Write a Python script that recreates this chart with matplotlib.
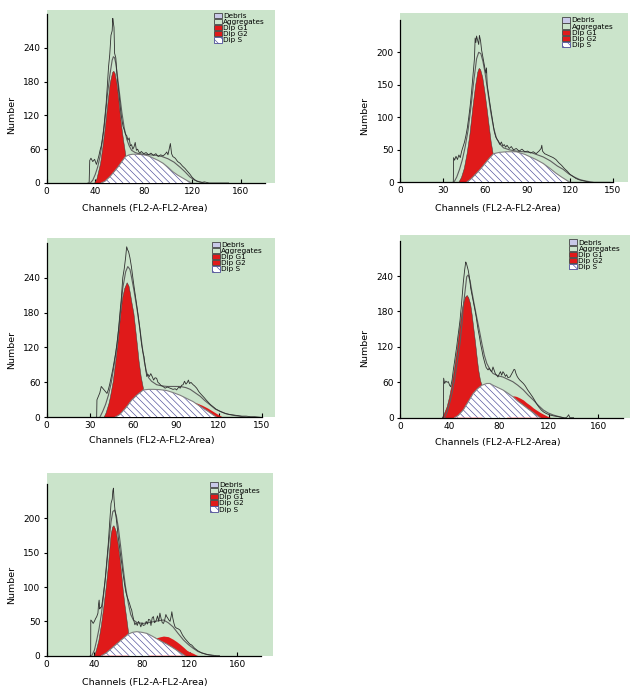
import matplotlib
matplotlib.use('Agg')
import matplotlib.pyplot as plt
from matplotlib.patches import Patch

plt.rcParams['font.family'] = ['DejaVu Sans']
plt.rcParams['hatch.linewidth'] = 0.45

# Panel 1 (top left)
p1_raw_x = [34, 35, 35.5, 36.5, 38, 39.5, 41, 42, 43, 44, 45, 46, 47, 48, 49, 50, 51, 52, 53, 54, 54.5, 55,
            55.5, 56, 57, 58, 59, 60, 61, 62, 63, 64, 65, 66, 67, 68, 69, 70, 71, 72, 73, 74, 75, 76, 77, 78,
            80, 82, 84, 86, 88, 90, 92, 94, 96, 98, 99, 100, 101, 102, 103, 104, 106, 108, 110, 112, 114, 116,
            118, 120, 122, 124, 126, 128, 130, 132, 134, 150]
p1_raw_y = [0, 0, 40, 44, 38, 42, 33, 40, 48, 58, 66, 80, 96, 118, 140, 172, 206, 228, 262, 270, 292, 284,
            276, 230, 222, 190, 171, 150, 128, 112, 100, 94, 86, 84, 76, 80, 66, 68, 60, 64, 72, 58, 60, 55, 53, 56,
            52, 54, 50, 53, 49, 52, 47, 50, 48, 52, 55, 50, 60, 70, 52, 47, 44, 38, 35, 30, 26, 21,
            16, 10, 6, 3, 2, 1, 2, 1, 0, 0]
p1_fit_x = [36, 38, 40, 42, 44, 46, 48, 50, 52, 54, 55, 56, 57, 58, 60, 62, 64, 66, 68, 70, 73, 76, 80, 85,
            90, 95, 100, 105, 110, 114, 118, 122, 126, 130]
p1_fit_y = [0, 5, 15, 28, 47, 75, 110, 155, 190, 218, 224, 222, 212, 196, 160, 125, 97, 78, 66, 58, 54, 52, 51, 50,
            49, 47, 43, 37, 28, 20, 11, 5, 2, 0]
p1_g1_x = [39, 41, 44, 46, 48, 50, 52, 54, 55, 56, 57.5, 59, 60, 61.5, 63, 64, 65]
p1_g1_y = [0, 8, 35, 65, 100, 140, 178, 197, 199, 195, 178, 150, 128, 100, 76, 62, 47]
p1_s_x = [45, 48, 52, 56, 59, 62, 65, 68, 71, 75, 80, 84, 88, 92, 96, 100, 104, 108, 112, 116, 119.5]
p1_s_y = [0, 3, 11, 21, 29, 38, 47, 50, 51, 51, 50, 48, 44, 40, 35, 28, 20, 14, 9, 4, 0]

# Panel 2 (top right)
p2_raw_x = [37, 37.6, 37.8, 38.5, 39.5, 40.5, 41.5, 42.5, 43.5, 44.5, 45.5, 46.5, 47.5, 48.5, 49.5, 50.5, 51.5,
            52.5, 53, 53.5, 54, 54.8, 55.5, 56, 56.8, 57.5, 58.5, 59.5, 60.5, 61, 61.5, 62.5, 63.5, 64.5, 65.5,
            66.5, 67.5, 68.5, 69.5, 70.5, 71.5, 72.5, 73.5, 74.5, 75.5, 77, 78.5, 80, 82, 84, 86, 88, 90, 92, 94,
            96, 98, 99.5, 100, 100.5, 102, 104, 106, 108, 110, 112, 114, 116, 118, 120, 122, 124, 126, 128, 130,
            132, 134, 148]
p2_raw_y = [0, 0, 38, 34, 40, 35, 42, 38, 48, 55, 62, 72, 84, 100, 118, 140, 165,
            190, 222, 215, 225, 218, 212, 226, 218, 204, 192, 180, 168, 176, 150, 135, 120, 106, 92,
            78, 70, 66, 63, 58, 62, 56, 58, 54, 57, 52, 55, 50, 52, 48, 51, 47, 48, 45, 47,
            44, 48, 52, 57, 48, 44, 42, 40, 38, 35, 30, 26, 21, 17, 12, 9, 6, 4, 3, 2,
            1, 0, 0]
p2_fit_x = [38, 40, 42, 44, 46, 48, 50, 52, 54, 55.5, 57, 58.5, 60, 62, 64, 66, 68, 70, 73, 77, 82, 87, 92, 96,
            101, 106, 111, 115, 119, 123, 127, 131, 136]
p2_fit_y = [0, 8, 20, 35, 55, 80, 115, 155, 190, 200, 198, 186, 168, 138, 108, 84, 68, 60, 53, 50, 48, 47, 46, 43,
            39, 33, 25, 20, 13, 8, 4, 2, 0]
p2_g1_x = [41, 43, 45, 47, 49, 51, 53, 54.5, 55.5, 56.5, 58, 59.5, 61, 62.5, 64, 65.4]
p2_g1_y = [0, 8, 22, 45, 75, 115, 150, 170, 176, 174, 162, 140, 115, 88, 62, 44]
p2_s_x = [47, 50, 54, 57, 60, 63, 66, 70, 75, 82, 88, 92, 96, 101, 106, 110, 114, 117.6, 120]
p2_s_y = [0, 5, 14, 21, 29, 37, 44, 46, 47, 47, 43, 39, 35, 29, 21, 14, 8, 3, 0]

# Panel 3 (middle left)
p3_raw_x = [34.5, 34.8, 35, 36, 37, 38, 39, 40, 41, 42, 43, 44, 45, 46, 47, 48, 49, 50, 51, 52, 53, 54, 55, 55.7,
            56.5, 57, 58, 59, 60, 61, 62, 63, 64, 65, 66, 67, 67.8, 68.5, 69.7, 70.5, 71.5, 72.5, 73.5, 74.5,
            75.5, 76.6, 77.5, 78.5, 79.5, 81, 82.5, 84, 86, 88, 89.5, 90.5, 92, 93, 94, 95, 96, 97, 98, 98.7,
            99.5, 100.5, 102, 103, 104.5, 106, 107, 108.5, 110, 111, 112.5, 114, 116, 118, 121, 124, 127, 130,
            133, 136, 139, 142, 145, 148.6]
p3_raw_y = [0, 0, 30, 36, 42, 53, 50, 47, 44, 41, 48, 58, 70, 82, 96, 110, 128, 150, 179, 205, 240, 255, 275, 293,
            287, 285, 274, 259, 240, 222, 205, 188, 170, 150, 127, 112, 104, 90, 70, 74, 70, 75, 70, 64,
            68, 67, 60, 58, 55, 53, 50, 52, 50, 48, 49, 47, 52, 50, 55, 56, 62, 57, 60, 64,
            58, 60, 56, 54, 50, 44, 41, 37, 33, 30, 26, 22, 18, 14, 10, 7, 5, 4,
            3, 2, 2, 1, 1, 0]
p3_fit_x = [37, 39, 41, 43, 45, 47, 49, 51, 53, 55, 56.5, 58, 59, 60.5, 62, 63.5, 65, 66.5, 68, 69.5, 71, 73,
            76.6, 80, 84, 88, 93, 97, 100, 103.5, 107, 110, 114, 117.5, 121, 125, 130, 135, 140]
p3_fit_y = [0, 10, 22, 38, 60, 90, 125, 170, 222, 250, 259, 254, 242, 222, 200, 176, 150, 122, 96, 78, 68, 62,
            56, 54, 53, 53, 53, 51, 48, 42, 36, 29, 21, 14, 10, 6, 3.4, 1.5, 0]
p3_g1_x = [39.5, 41, 43, 44, 46, 47.6, 49.5, 51, 52.5, 54, 55.7, 57, 58, 59, 60.4, 61.5, 63, 64, 65.5, 67.3]
p3_g1_y = [0, 8, 24, 35, 62, 93, 133, 173, 205, 222, 232, 226, 213, 198, 179, 155, 121, 97, 70, 47]
p3_s_x = [47.6, 51, 55.7, 59, 62.7, 67.3, 71, 74.3, 79, 83.6, 88, 92.9, 97, 102, 105.5, 109, 112.5, 116, 118.4]
p3_s_y = [0, 5, 18, 29, 38, 47, 48, 48, 47.5, 46, 42.5, 38, 33, 27, 21, 15.5, 10, 4, 0]
p3_g2_x = [100, 104, 108, 112, 116, 120, 123]
p3_g2_y = [26, 25, 21, 16, 10, 4, 0]

# Panel 4 (middle right)
p4_raw_x = [34.5, 35, 35.2, 36, 37, 38, 39, 40, 40.9, 42, 43, 44, 45, 45.7, 46.5, 47.5, 48.4, 49.5, 50.5, 51, 52,
            53, 53.5, 54, 55, 56, 57, 57.8, 59, 60.5, 61.5, 63, 64, 65, 66, 67, 68, 68.5, 69.5, 71, 72, 73, 74,
            75, 76, 77, 78, 79, 80, 81, 82, 83, 84, 85, 86, 87, 88.7, 90, 91, 92, 92.7, 93.5, 94.5, 95.4, 96.5,
            97.5, 98.5, 99.5, 101, 103, 105, 107, 109, 110, 112, 114, 115.6, 118, 121, 124, 127, 131.7, 134, 135,
            136, 137, 140]
p4_raw_y = [0, 0, 67, 58, 62, 60, 61, 55, 52.5, 64, 81, 95, 110, 120, 134, 150, 165, 190, 215, 228, 248,
            264, 262, 258, 250, 238, 220, 211, 198, 182, 170, 149, 138, 125, 115, 104, 96, 92, 85, 81, 84, 80, 78,
            86, 80, 74, 72, 69, 74, 78, 72, 78, 75, 70, 73, 68, 69, 74, 78, 82, 81, 75, 70, 67, 64,
            62, 60, 58, 54, 47, 41, 35, 28, 24, 18, 13, 10, 7, 4.5, 3, 2, 0, 0, 2,
            5, 0, 0]
p4_fit_x = [36, 38, 40, 42, 44, 46, 48.4, 50, 51, 52.5, 53.8, 55, 56.5, 57.8, 59.5, 61.8, 64, 66, 68, 70, 72.5,
            75, 79, 83, 87, 91, 95, 99.5, 103.5, 107.5, 111.5, 115.6, 119.5, 123.7, 128, 131.7]
p4_fit_y = [0, 10, 24, 42, 64, 92, 126, 160, 188, 215, 239, 242, 232, 216, 196, 171, 148, 126, 106, 92, 82,
            75, 71, 69, 65, 61, 55, 47, 38, 30, 21, 13, 8, 4.5, 2, 0]
p4_g1_x = [33.6, 35.5, 37.6, 39.5, 41.7, 43.7, 45.7, 47.7, 49.7, 51, 52.4, 53.8, 55, 56.5, 57.8, 59, 60.5, 61.8,
           63, 64.5, 65.8]
p4_g1_y = [0, 8, 19, 35, 58, 85, 115, 150, 182, 196, 205, 208, 204, 194, 175, 154, 128, 103, 82, 64, 55]
p4_s_x = [44, 47, 51, 55, 59, 62.5, 66, 70, 72.5, 75, 79, 83, 87, 91, 95, 99.5, 103.5, 107.5, 110, 113]
p4_s_y = [0, 4, 13, 27, 41, 49, 55, 58, 58, 55, 51, 47, 41.5, 35.6, 28, 21, 14.5, 8.5, 4.5, 0]
p4_g2_x = [86, 89, 92, 94, 97, 99.5, 102, 105, 107.5, 110, 113, 115.6, 118, 119.6, 122]
p4_g2_y = [40, 36, 37, 36, 33, 30, 25.5, 21, 16.5, 13, 9, 6, 3.5, 1.7, 0]

# Panel 5 (bottom left)
p5_raw_x = [36.5, 36.9, 37, 38, 39, 40, 41, 42, 43, 43.5, 44, 44.5, 45, 46, 47, 48, 49, 50, 51, 51.7, 52.5,
            53.3, 54, 55, 55.5, 56, 56.6, 57.3, 58, 59, 60, 61, 62, 63, 64, 65, 65.7, 66.5, 67.5, 68.5, 69.5,
            70.5, 71.3, 72, 73, 74, 75, 76, 77, 78, 79, 80, 81, 82.5, 83.5, 84.5, 85.5, 86.7, 87.5, 88.5, 89.5,
            90.5, 91.5, 92, 93, 94, 95, 96, 97, 98, 99, 100, 100.7, 101.5, 102.5, 103.5, 104.5, 105, 105.8,
            106.8, 107.7, 109, 110.5, 112, 114, 116, 118, 120, 121.7, 124, 127, 130, 134, 138, 142.7, 145]
p5_raw_y = [0, 0, 52, 50, 47, 50, 54, 57, 62, 75, 81, 68, 70, 71, 82, 96, 110, 130, 150, 164, 185,
            205, 222, 228, 240, 244, 225, 212, 205, 190, 173, 160, 146, 134, 120, 108, 100, 92, 86, 81, 76,
            70, 66.5, 60, 52, 45, 48, 44, 50, 47, 42, 48, 44, 45, 50, 46, 53, 52, 44, 55, 57,
            48, 50, 52, 58, 50, 62, 54, 48, 47, 52, 60, 57, 55, 52, 50, 58, 64, 55,
            47, 42, 40, 39, 37, 30, 25, 21, 17, 15.5, 11, 7, 4, 2, 1, 0, 0]
p5_fit_x = [37.8, 40, 42, 44, 46, 48, 50, 52, 54, 55.5, 57, 58.5, 60, 62, 64, 66, 68.5, 70.5, 72.7, 76, 81, 85,
            89.5, 94, 98, 102, 106, 110, 114.7, 119, 123, 127, 131.5, 136, 140]
p5_fit_y = [0, 8, 23, 40, 62, 92, 125, 162, 195, 210, 212, 203, 188, 160, 130, 102, 76, 60, 52, 48, 47, 48,
            49.5, 51, 52, 48, 42, 33, 23, 16, 10.7, 6, 3.4, 1, 0]
p5_g1_x = [39.7, 41.5, 43.4, 45.5, 47.5, 49.5, 51, 52.5, 53.7, 55, 56, 57, 58, 59.5, 61, 62.5, 63.8, 65.2, 66.6,
           68.5]
p5_g1_y = [0, 10, 23, 45, 71, 100, 125, 155, 178, 188, 190, 186, 181, 164, 144, 120, 96, 75, 57, 31.5]
p5_s_x = [46, 50, 56, 62, 68.5, 72, 75.5, 80, 84, 88, 92, 96, 100.7, 105, 109, 112.5, 116]
p5_s_y = [0, 4, 13, 22, 31.5, 34, 35, 34, 32.5, 29, 25, 21, 17, 12.5, 8, 4, 0]
p5_g2_x = [85, 89, 92, 95, 98, 102, 106, 109, 112, 115, 117.5, 120, 123, 125, 127]
p5_g2_y = [30, 28, 26, 27.5, 28.6, 27.7, 24, 20.5, 16.5, 12, 8, 5.5, 3.4, 1.5, 0]

legend_labels = ['Debris', 'Aggregates', 'Dip G1', 'Dip G2', 'Dip S']

W, H = 639, 695
GREEN = '#cbe4cb'
RED = '#e01a1a'
HATCH = '#4b4b98'

fig = plt.figure(figsize=(W / 100, H / 100), dpi=100)

# origin px, px per unit (x, y), axis extent, green box right/top px, ticks, label positions
panels = [
    dict(o=(46.7, 183), scale=(1.2125, 0.5638), ext=(180, 300), green=(275, 10),
         xt=range(0, 161, 40), yt=range(0, 241, 60), xl=(145, 209), yl=(12, 115),
         raw=(p1_raw_x, p1_raw_y), fit=(p1_fit_x, p1_fit_y), g1=(p1_g1_x, p1_g1_y),
         s=(p1_s_x, p1_s_y), g2=None, leg=(0.733, 0.985)),
    dict(o=(400, 182.3), scale=(1.418, 0.65), ext=(150, 250), green=(628, 13),
         xt=range(0, 151, 30), yt=range(0, 201, 50), xl=(498, 208), yl=(365, 116),
         raw=(p2_raw_x, p2_raw_y), fit=(p2_fit_x, p2_fit_y), g1=(p2_g1_x, p2_g1_y),
         s=(p2_s_x, p2_s_y), g2=None, leg=(0.712, 0.975)),
    dict(o=(46.7, 417.3), scale=(1.4355, 0.582), ext=(150, 300), green=(275, 238),
         xt=range(0, 151, 30), yt=range(0, 241, 60), xl=(152, 441), yl=(12, 350),
         raw=(p3_raw_x, p3_raw_y), fit=(p3_fit_x, p3_fit_y), g1=(p3_g1_x, p3_g1_y),
         s=(p3_s_x, p3_s_y), g2=(p3_g2_x, p3_g2_y), leg=(0.723, 0.98)),
    dict(o=(400, 417.7), scale=(1.24, 0.590), ext=(180, 300), green=(630, 235),
         xt=range(0, 161, 40), yt=range(0, 241, 60), xl=(498, 442), yl=(365, 348),
         raw=(p4_raw_x, p4_raw_y), fit=(p4_fit_x, p4_fit_y), g1=(p4_g1_x, p4_g1_y),
         s=(p4_s_x, p4_s_y), g2=(p4_g2_x, p4_g2_y), leg=(0.735, 0.976)),
    dict(o=(46.7, 655.7), scale=(1.1917, 0.6867), ext=(180, 250), green=(273, 473),
         xt=range(0, 161, 40), yt=range(0, 201, 50), xl=(145, 683), yl=(12, 585),
         raw=(p5_raw_x, p5_raw_y), fit=(p5_fit_x, p5_fit_y), g1=(p5_g1_x, p5_g1_y),
         s=(p5_s_x, p5_s_y), g2=(p5_g2_x, p5_g2_y), leg=(0.72, 0.952)),
]

for p in panels:
    ox, oy = p['o']
    sx, sy = p['scale']
    gx1, gy0 = p['green']
    ax = fig.add_axes([ox / W, 1 - oy / H, (gx1 - ox) / W, (oy - gy0) / H])
    ax.set_facecolor(GREEN)
    ax.set_xlim(0, (gx1 - ox) / sx)
    ax.set_ylim(0, (oy - gy0) / sy)

    ax.fill_between(*p['g1'], 0, color=RED, edgecolor='#3a3a3a', linewidth=0.35, zorder=2)
    if p['g2'] is not None:
        ax.fill_between(*p['g2'], 0, color=RED, linewidth=0, zorder=2)
    ax.fill_between(*p['s'], 0, facecolor='white', edgecolor=HATCH, hatch='\\' * 5,
                    linewidth=0, zorder=3)
    ax.plot(*p['s'], color='#808080', linewidth=0.8, zorder=4)
    ax.plot(*p['fit'], color='#5e5e5e', linewidth=0.8, zorder=5)
    ax.plot(*p['raw'], color='#2e2e2e', linewidth=0.6, zorder=6)

    for side in ['top', 'right']:
        ax.spines[side].set_visible(False)
    ax.spines['left'].set_bounds(0, p['ext'][1])
    ax.spines['bottom'].set_bounds(0, p['ext'][0])
    ax.spines['left'].set_linewidth(0.9)
    ax.spines['bottom'].set_linewidth(0.9)
    ax.set_xticks(list(p['xt']))
    ax.set_yticks(list(p['yt']))
    ax.tick_params(axis='y', direction='out', length=2.5, width=0.8, labelsize=6.5, pad=2)
    ax.tick_params(axis='x', direction='in', length=3, width=0.8, labelsize=6.5, pad=3)

    handles = [Patch(facecolor='#c9c9e8', edgecolor='#444444', linewidth=0.6),
               Patch(facecolor=GREEN, edgecolor='#444444', linewidth=0.6),
               Patch(facecolor=RED, edgecolor='#444444', linewidth=0.6),
               Patch(facecolor=RED, edgecolor='#444444', linewidth=0.6),
               Patch(facecolor='white', edgecolor=HATCH, hatch='\\' * 4, linewidth=0.6)]
    ax.legend(handles, legend_labels, loc='upper left', bbox_to_anchor=p['leg'], frameon=False,
              fontsize=5.2, labelspacing=0.0, handlelength=1.1, handleheight=0.75,
              handletextpad=0.2, borderpad=0, borderaxespad=0)

    fig.text(p['xl'][0] / W, 1 - p['xl'][1] / H, 'Channels (FL2-A-FL2-Area)',
             ha='center', va='center', fontsize=6.8)
    fig.text(p['yl'][0] / W, 1 - p['yl'][1] / H, 'Number', rotation=90,
             ha='center', va='center', fontsize=6.8)

fig.savefig('out.png', dpi=100)
